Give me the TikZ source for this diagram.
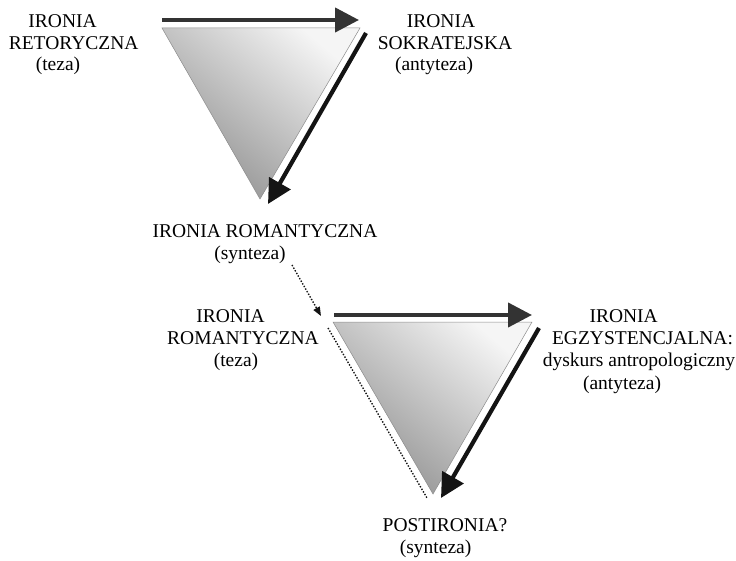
\documentclass[tikz,border=0pt]{standalone}
\usepackage{fontspec}
\setmainfont{Liberation Serif}
\usetikzlibrary{arrows.meta}
\definecolor{shaft}{gray}{0.20}
\definecolor{rim}{gray}{0.55}
\definecolor{ink}{gray}{0.08}

\begin{document}
\begin{tikzpicture}[x=1pt, y=-1pt, every node/.style={font=\fontsize{19.5}{22}\selectfont, inner sep=0pt},
    wedge/.style={draw=rim, line width=0.5pt, top color=black!4, bottom color=black!44, shading angle=-40},
    bigarrow/.style={line width=4.2pt, -{Triangle[length=24pt,width=24pt]}},
    hint/.style={ink, line width=1.4pt, dash pattern=on 1.4pt off 1.6pt}]
        \useasboundingbox (0,0) rectangle (736,561);
        % corners of the two triangles and the ends of the arrows
        \foreach \n/\x/\y in {a1/162/28, b1/360/28, c1/260/199, p1/162/20, q1/359/20, r1/366/33, s1/268/204,
                              a2/333/322, b2/532/322, c2/433/494, p2/334/315, q2/532/315, r2/539/328, s2/441/498,
                              u2/328/328, v2/427/498, m1/292/265, m2/321/316}
          \coordinate (\n) at (\x,\y);
        \shade[wedge] (a1) -- (b1) -- (c1) -- cycle;
        \shade[wedge] (a2) -- (b2) -- (c2) -- cycle;
        \draw[bigarrow, shaft] (p1) -- (q1);
        \draw[bigarrow, ink] (r1) -- (s1);
        \draw[bigarrow, shaft] (p2) -- (q2);
        \draw[bigarrow, ink] (r2) -- (s2);
        \draw[hint] (u2) -- (v2);
        \draw[hint, -{Triangle[length=9pt,width=7pt]}] (m1) -- (m2);
        % labels, one line each
        \foreach \x/\y/\t [count=\i] in {62.6/28/{IRONIA}, 73.6/50/{RETORYCZNA}, 58/71/{(teza)},
                                         441/28/{IRONIA}, 445/50/{SOKRATEJSKA}, 434/71/{(antyteza)},
                                         265/238/{IRONIA ROMANTYCZNA}, 250/260/{(synteza)},
                                         230.5/322/{IRONIA}, 243/344/{ROMANTYCZNA}, 236/366/{(teza)},
                                         623.7/322/{IRONIA}, 642.5/344/{EGZYSTENCJALNA:}, 639/366/{dyskurs antropologiczny}, 622/389/{(antyteza)},
                                         445/531/{POSTIRONIA?}, 435.6/553/{(synteza)}}
          \node[anchor=base] (lbl\i) at (\x,\y) {\t};
      \end{tikzpicture}
\end{document}
